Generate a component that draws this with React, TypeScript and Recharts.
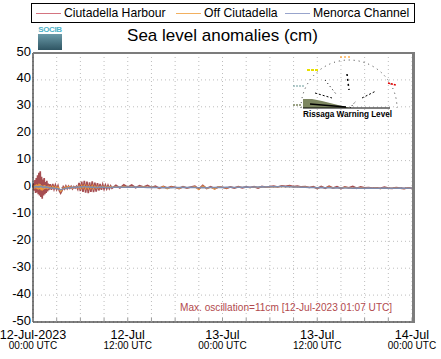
import { CartesianGrid, Line, LineChart, XAxis, YAxis } from "recharts";

// sample times (minutes after 12-Jul-2023 00:00 UTC)
const minutes = [
  0, 5, 10, 15, 20, 25, 30, 35, 40, 45, 50, 55, 60, 65, 70, 75, 80, 85, 90, 95, 100, 105, 110, 115, 120,
  130, 140, 150, 160, 170, 180, 190, 200, 210, 220, 230, 240, 250, 260, 270, 280, 290, 300, 310, 320,
  330, 340, 350, 360, 370, 380, 390, 400, 410, 420, 430, 440, 450, 460, 470, 480, 490, 500, 510, 520,
  530, 540, 550, 560, 570, 580, 590, 600,
  630, 660, 690, 720, 750, 780, 810, 840, 870, 900, 930, 960, 990, 1020, 1050, 1080, 1110, 1140, 1170,
  1200, 1230, 1260, 1290, 1320, 1350, 1380, 1410, 1440, 1470, 1500, 1530, 1560, 1590, 1620, 1650, 1680,
  1710, 1740, 1770, 1800, 1830, 1860, 1890, 1920, 1950, 1980, 2010, 2040, 2070, 2100, 2130, 2160, 2190,
  2220, 2250, 2280, 2310, 2340, 2370, 2400, 2430, 2460, 2490, 2520, 2550, 2580, 2610, 2640, 2670, 2700,
  2730, 2760, 2790, 2820, 2850, 2880,
];

const ciutadellaHarbour = [
  0, 1.5, -1.2, 2.8, -2, 3.5, -1.8, 4.5, -2.5, 5.5, -3, 6, -3.5, 4, -4.2, 3, -3, 3.5, -2.5, 2, -2, 2.5, -1.5, 1.5, -1,
  1.2, -0.9, 1.3, -0.6, 0.9, -0.7, 0.6, -1.2, -2.1, -1.2, 0.3, -0.5, 0.6, -0.4, 0.5, -0.3, 0.4, -0.5, 0.3, -0.2,
  0.4, -0.6, 1.7, -1.3, 2.2, -1.6, 2.5, -1.9, 2.2, -2.1, 1.9, -1.6, 2.3, -1.7, 1.8, -1.5, 1.6, -1.1, 1.3, -0.9,
  1.1, -0.6, 0.9, -0.5, 0.8, -0.4, 0.6, -0.3,
  0.8, -0.2, 1, 0.1, 0.9, -0.1, 0.7, 0.2, 0.8, 0, 0.5, -0.3, 0.4, -0.2, 0.3, 0.1, -0.4, 0.3, -0.2,
  0.2, 0.5, -0.6, 0.8, -0.4, 0.3, -0.5, 0.2, 0.1, -0.3, 0.2, -0.2, 0.3, -0.1, 0.2, 0, 0.3,
  -0.2, 0.4, 0.1, 0.3, 0.5, 0.2, 0.6, 0.4, 0.7, 0.3, 0.5, 0.2, 0.3, 0, 0.3, -0.4, 0.4,
  -0.3, 0.5, -0.2, 0.3, -0.4, 0.2, -0.1, 0.4, -0.3, 0.2, -0.1, 0, -0.2, -0.1, -0.3, 0.1, -0.2,
  -0.3, 0, -0.2, -0.4, -0.1, -0.3,
];

const offCiutadella = [
  0, 0.5, -0.4, 0.8, -0.3, 1.2, -0.5, 1, -0.8, 1.5, -0.6, 1.3, -1, 0.8, -1.2, 0.6, -0.8, 0.9, -0.5, 0.7, -0.4, 0.5, -0.6, 0.4, -0.2,
  0.4, -0.3, 0.5, -0.2, 0.3, -0.4, 0.2, -0.6, -1.5, -1, -0.2, -0.4, 0.3, -0.2, 0.4, -0.1, 0.3, -0.3, 0.2, 0,
  0.3, -0.2, 0.6, -0.4, 0.8, -0.3, 0.9, -0.5, 0.7, -0.6, 0.6, -0.4, 0.8, -0.5, 0.6, -0.3, 0.5, -0.2, 0.4, -0.1,
  0.5, 0, 0.4, 0.1, 0.3, 0, 0.4, 0.1,
  0.3, 0.1, 0.4, 0.2, 0.3, 0.1, 0.2, 0.3, 0.1, 0.2, 0.1, -0.2, 0.3, -0.5, 0.2, 0, -0.3, 0.2, -0.1,
  0, 0.3, -0.8, 0.6, -0.3, 0.1, -0.6, 0.3, 0, -0.2, 0.1, -0.1, 0.2, 0, 0.1, -0.1, 0.2,
  0, 0.3, 0.1, 0.2, 0.3, 0.2, 0.4, 0.3, 0.4, 0.2, 0.3, 0.1, 0.2, 0, 0.1, -0.2, 0.1,
  -0.1, 0.2, -0.1, 0, -0.2, 0.1, -0.1, -0.2, -0.3, -0.1, -0.3, -0.2, -0.3, -0.2, -0.4, -0.2, -0.3,
  -0.3, -0.2, -0.3, -0.4, -0.2, -0.3,
];

const menorcaChannel = [
  0, 0.2, 0.1, 0.3, 0.2, 0.4, 0.2, 0.3, 0.1, 0.4, 0.2, 0.5, 0.3, 0.4, 0.1, 0.3, 0, 0.2, 0.1, 0.3, 0, 0.2, 0, 0.1, -0.1,
  -0.2, -0.1, -0.3, -0.2, -0.4, -0.3, -0.5, -0.6, -0.8, -0.7, -0.5, -0.4, -0.3, -0.2, -0.2, -0.1, 0, 0.1, 0, 0.1,
  0.2, 0.1, 0.2, 0.3, 0.2, 0.3, 0.4, 0.3, 0.2, 0.3, 0.2, 0.1, 0.2, 0.1, 0, 0.1, 0, 0.1, 0.2, 0.1,
  0.2, 0.1, 0, 0.1, 0, 0.1, 0, 0.1,
  0.1, 0.2, 0.1, 0.2, 0.1, 0.2, 0.1, 0.1, 0, 0.1, 0, 0, -0.1, 0, -0.1, 0, 0, 0.1, 0,
  0.1, 0, -0.1, 0, -0.1, 0, 0, 0.1, 0, 0.1, 0.1, 0, 0.1, 0.1, 0.2, 0.1, 0.2,
  0.2, 0.3, 0.2, 0.3, 0.3, 0.3, 0.4, 0.3, 0.3, 0.2, 0.2, 0.1, 0.1, 0, 0, -0.1, 0,
  -0.1, -0.1, -0.2, -0.1, -0.2, -0.2, -0.2, -0.3, -0.2, -0.3, -0.3, -0.2, -0.3, -0.3, -0.3, -0.2, -0.3,
  -0.3, -0.3, -0.2, -0.3, -0.3, -0.2,
];

const xTicks = [0, 3, 6, 9, 12, 15, 18, 21, 24, 27, 30, 33, 36, 39, 42, 45, 48];
const dayLabels = ["12-Jul-2023", "12-Jul", "13-Jul", "13-Jul", "14-Jul"];
const timeLabels = ["00:00 UTC", "12:00 UTC", "00:00 UTC", "12:00 UTC", "00:00 UTC"];
const yTicks = [-50, -40, -30, -20, -10, 0, 10, 20, 30, 40, 50];

const seriesNames = ["Ciutadella Harbour", "Off Ciutadella", "Menorca Channel"];
const legendColors = ["#d47480", "#f2b060", "#98a4cc"];

const data = minutes.map((m, i) => ({
  t: m / 60,
  harbour: ciutadellaHarbour[i],
  off: offCiutadella[i],
  channel: menorcaChannel[i],
}));

const FONT = "'Liberation Sans', Arial, Helvetica, sans-serif";

function XTick(props: any) {
  const { x, y, payload } = props;
  const v = payload.value;
  const major = v % 12 === 0 ? v / 12 : -1;
  return (
    <g>
      <line x1={x} x2={x} y1={y} y2={y - 4} stroke="#9a9a9a" />
      {major >= 0 && (
        <>
          <text x={x} y={y + 16.5} textAnchor="middle" fontSize={12.6} fill="#000" fontFamily={FONT}>
            {dayLabels[major]}
          </text>
          <text x={x} y={y + 27} textAnchor="middle" fontSize={10} fill="#000" fontFamily={FONT}>
            {timeLabels[major]}
          </text>
        </>
      )}
    </g>
  );
}

function YTick(props: any) {
  const { x, y, payload } = props;
  return (
    <text x={x - 2} y={y + 2.5} textAnchor="end" fontSize={13} fill="#000" fontFamily={FONT}>
      {payload.value}
    </text>
  );
}

export default function App() {
  return (
    <div style={{ position: "absolute", left: 0, top: 0, width: 441, height: 359, background: "#fff", fontFamily: FONT }}>
      <LineChart width={441} height={359} data={data} margin={{ top: 53, right: 29, left: 0, bottom: 0 }}>
        <CartesianGrid stroke="#bdbdbd" strokeDasharray="1 3" />
        <XAxis
          dataKey="t"
          type="number"
          domain={[0, 48]}
          ticks={xTicks}
          interval={0}
          height={37}
          tickSize={0}
          tickMargin={0}
          tickLine={false}
          axisLine={{ stroke: "#000" }}
          tick={<XTick />}
        />
        <YAxis
          type="number"
          domain={[-50, 50]}
          ticks={yTicks}
          interval={0}
          width={33}
          tickSize={0}
          tickMargin={0}
          tickLine={false}
          axisLine={{ stroke: "#000" }}
          tick={<YTick />}
        />
        <Line dataKey="harbour" stroke="#9c3a3e" strokeOpacity={0.9} strokeWidth={1.7} dot={false} isAnimationActive={false} />
        <Line dataKey="off" stroke="#ef9a3a" strokeWidth={1.1} dot={false} isAnimationActive={false} />
        <Line dataKey="channel" stroke="#7f8cae" strokeWidth={1.4} dot={false} isAnimationActive={false} />
      </LineChart>

      {/* frame top / right */}
      <div style={{ position: "absolute", left: 33, top: 52, width: 381, height: 2, background: "#7c7c7c" }} />
      <div style={{ position: "absolute", left: 412, top: 52, width: 3, height: 271, background: "#7c7c7c" }} />

      {/* legend */}
      <div style={{ position: "absolute", left: 31, top: 3, width: 382, height: 18, border: "1px solid #000", background: "#fff" }}>
        {[
          [4, 32],
          [144, 172],
          [253, 281],
        ].map(([lx, tx], i) => (
          <div key={i}>
            <div style={{ position: "absolute", left: lx, top: 9, width: 25, height: 1, background: legendColors[i] }} />
            <div style={{ position: "absolute", left: tx, top: 1, fontSize: 12.2, lineHeight: "16px", color: "#000", whiteSpace: "nowrap" }}>
              {seriesNames[i]}
            </div>
          </div>
        ))}
      </div>

      {/* title */}
      <div style={{ position: "absolute", left: 0, width: 441, top: 26, textAlign: "center", fontSize: 17, lineHeight: "20px", color: "#000", paddingLeft: 4, boxSizing: "border-box" }}>
        Sea level anomalies (cm)
      </div>

      {/* logo */}
      <div style={{ position: "absolute", left: 38, top: 26, width: 24, height: 24 }}>
        <div style={{ fontSize: 8, lineHeight: "8px", color: "#4fb2c8", textAlign: "center", fontWeight: "bold", letterSpacing: -0.4 }}>SOCIB</div>
        <div style={{ width: 24, height: 16, background: "linear-gradient(#6a9aa8, #2f5563)" }} />
      </div>

      {/* annotation */}
      <div style={{ position: "absolute", left: 180, top: 302, fontSize: 10.1, lineHeight: "12px", color: "#b24a4e", whiteSpace: "nowrap" }}>
        Max. oscillation=11cm [12-Jul-2023 01:07 UTC]
      </div>

      {/* rissaga warning gauge */}
      <svg style={{ position: "absolute", left: 0, top: 0 }} width={441} height={359}>
        <path d="M 301 108 A 48 48 0 0 1 397 108" fill="none" stroke="#333" strokeWidth={1} strokeDasharray="1 4" />
        <polygon points="303,108 303,99 312,99 322,101 334,104 346,107 350,108" fill="#7d8660" />
        <line x1={310} y1={104} x2={346} y2={107} stroke="#000" strokeWidth={1.5} />
        <line x1={303} y1={108} x2={390} y2={108} stroke="#000" strokeWidth={1} />
        <line x1={340} y1={57} x2={352} y2={57} stroke="#ff8c00" strokeWidth={1} strokeDasharray="2 2" />
        <line x1={307} y1={70} x2={319} y2={70} stroke="#e8e000" strokeWidth={2} strokeDasharray="3 1" />
        <line x1={293} y1={86} x2={305} y2={86} stroke="#6a9a9a" strokeWidth={1} strokeDasharray="2 1" />
        <line x1={293} y1={105} x2={301} y2={105} stroke="#7d8660" strokeWidth={1.5} strokeDasharray="2 1" />
        <line x1={388} y1={83} x2={396} y2={85} stroke="#e00000" strokeWidth={1.5} strokeDasharray="2 1" />
        <line x1={347} y1={74} x2={349} y2={90} stroke="#000" strokeWidth={1.5} strokeDasharray="2 3" />
        <line x1={325} y1={80} x2={336} y2={94} stroke="#000" strokeWidth={1} strokeDasharray="1 3" />
        <line x1={362} y1={98} x2={376} y2={91} stroke="#000" strokeWidth={1} strokeDasharray="2 2" />
        <line x1={315} y1={93} x2={332} y2={98} stroke="#000" strokeWidth={1} strokeDasharray="2 2" />
        <line x1={350} y1={108} x2={356} y2={101} stroke="#000" strokeWidth={1} strokeDasharray="1 2" />
        <text x={303} y={117} fontSize={9} fontWeight="bold" textLength={89} lengthAdjust="spacingAndGlyphs" fontFamily={FONT} fill="#000">
          Rissaga Warning Level
        </text>
      </svg>
    </div>
  );
}
